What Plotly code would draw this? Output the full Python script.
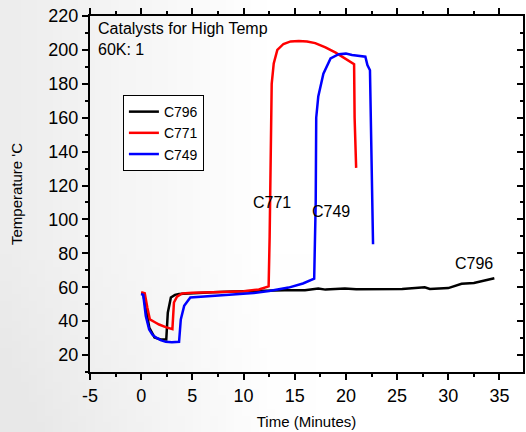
import base64, struct, zlib
import plotly.graph_objects as go

# ---- data ----
c796_t = [0.0, 0.2, 0.5, 0.8, 1.3, 1.9, 2.45, 2.6, 2.9, 3.3, 3.7, 5, 7, 9, 10.5, 12, 14, 16, 17.3, 18, 19.9, 21, 23.5, 25.5, 27.7, 28.2, 30, 31.3, 32.5, 33.5, 34.5]
c796_v = [56.5, 56, 46, 36, 30.4, 29.2, 29.2, 45, 54, 55.5, 56, 56.5, 57, 57.5, 57.8, 58, 58.2, 58.2, 59.3, 58.6, 59.2, 58.8, 58.8, 59, 60, 59, 59.5, 62, 62.5, 63.8, 65.3]
c771_t = [0.0, 0.35, 0.6, 0.85, 1.3, 1.75, 2.4, 3.05, 3.2, 3.5, 4.0, 5, 7, 9, 10, 11.5, 12.45, 12.55, 12.65, 12.75, 12.95, 13.3, 13.9, 14.6, 15.4, 16.2, 17.0, 18.0, 19.0, 20.8, 20.85, 21.0]
c771_v = [57, 56.5, 48, 41, 39.5, 38, 36.5, 35.3, 51, 54.5, 56.3, 56.8, 57, 57.3, 57.6, 58.7, 60.5, 90, 150, 180, 192, 200, 203.5, 205, 205.3, 205, 204, 201.5, 198.4, 191.6, 160, 130.4]
c749_t = [0.0, 0.2, 0.45, 0.78, 1.1, 1.43, 1.9, 2.4, 3.0, 3.7, 3.87, 4.2, 4.8, 6, 8, 9.5, 11, 12.5, 14.4, 15.8, 16.9, 17.05, 17.1, 17.3, 17.8, 18.5, 19.3, 20.0, 20.6, 21.9, 22.1, 22.35, 22.5, 22.65]
c749_v = [56, 55.5, 43, 35, 32, 30.4, 28.8, 27.8, 27.5, 27.8, 41, 49, 54, 54.5, 55, 55.9, 56.6, 57.8, 59.8, 62.2, 65, 110, 160, 172.5, 186, 195, 197.5, 197.8, 197, 196, 191, 188, 140, 85.3]
series_names = ["C796", "C771", "C749"]
series_colors = ["#000000", "#ff0000", "#0000ff"]
line_labels = [("C771", 12.75, 110), ("C749", 18.5, 104.7), ("C796", 32.5, 74)]
x_ticks = [-5, 0, 5, 10, 15, 20, 25, 30, 35]
x_ticktext = ["-5", "0", "5", "10", "15", "20", "25", "30", "35"]
y_ticks = [20, 40, 60, 80, 100, 120, 140, 160, 180, 200, 220]

FONT = "Liberation Sans, Arial, sans-serif"

# ---- soft background gradient as a small PNG ----
def gradient_png(w, h):
    rows = b""
    for j in range(h):
        rows += b"\x00"
        for i in range(w):
            fx = i / (w - 1)
            fy = j / (h - 1)
            d = max(0.0, 0.5 - fx) * 36 + max(0.0, fy - 0.6) * max(0.0, 0.6 - fx) * 30
            g = int(max(232, min(255, 255 - d)))
            rows += bytes([g, g, g])
    def chunk(t, d):
        c = struct.pack(">I", len(d)) + t + d
        return c + struct.pack(">I", zlib.crc32(t + d) & 0xffffffff)
    png = b"\x89PNG\r\n\x1a\n"
    png += chunk(b"IHDR", struct.pack(">IIBBBBB", w, h, 8, 2, 0, 0, 0))
    png += chunk(b"IDAT", zlib.compress(rows))
    png += chunk(b"IEND", b"")
    return "data:image/png;base64," + base64.b64encode(png).decode()

fig = go.Figure()
for name, t, v, col in zip(series_names, [c796_t, c771_t, c749_t], [c796_v, c771_v, c749_v], series_colors):
    fig.add_trace(go.Scatter(x=t, y=v, mode="lines", name=name,
                             line=dict(color=col, width=2.5)))

# invisible trace for mirrored axes (top / right)
fig.add_trace(go.Scatter(x=[None], y=[None], xaxis="x2", yaxis="y2",
                         showlegend=False, hoverinfo="skip"))

XR = [-5, 37.3]
YR = [10, 220]

fig.update_layout(
    width=526, height=432,
    margin=dict(l=90, r=3, t=16, b=60),
    paper_bgcolor="white",
    plot_bgcolor="rgba(0,0,0,0)",
    font=dict(family=FONT, color="black"),
    images=[dict(source=gradient_png(64, 64), xref="paper", yref="paper",
                 x=-90 / 433, y=1 + 16 / 356, sizex=526 / 433, sizey=432 / 356,
                 sizing="stretch", layer="below", xanchor="left", yanchor="top")],
    xaxis=dict(range=XR, tickvals=x_ticks, ticktext=x_ticktext, ticks="outside", ticklen=6, tickwidth=1.5,
               showline=True, linecolor="black", linewidth=2, showgrid=False, zeroline=False,
               tickfont=dict(size=18), tickcolor="black", automargin=False,
               minor=dict(dtick=2.5, tick0=0, ticks="outside", ticklen=3, tickcolor="black", tickwidth=1.5),
               title=dict(text="Time (Minutes)", font=dict(size=15), standoff=12)),
    yaxis=dict(range=YR, tickvals=y_ticks, ticks="outside", ticklen=6, tickwidth=1.5,
               showline=True, linecolor="black", linewidth=2, showgrid=False, zeroline=False,
               tickfont=dict(size=18), tickcolor="black", automargin=False,
               minor=dict(dtick=10, tick0=0, ticks="outside", ticklen=3, tickcolor="black", tickwidth=1.5),
               title=dict(text="Temperature 'C", font=dict(size=15), standoff=22)),
    xaxis2=dict(range=XR, overlaying="x", side="top", tickvals=x_ticks, ticks="outside",
                ticklen=6, tickwidth=1.5, tickcolor="black", showticklabels=False, automargin=False,
                showline=True, linecolor="black", linewidth=2, showgrid=False, zeroline=False,
                minor=dict(dtick=2.5, tick0=0, ticks="outside", ticklen=3, tickcolor="black", tickwidth=1.5)),
    yaxis2=dict(range=YR, overlaying="y", side="right", tickvals=y_ticks, ticks="inside",
                ticklen=6, tickwidth=1.5, tickcolor="black", showticklabels=False, automargin=False,
                showline=True, linecolor="black", linewidth=2, showgrid=False, zeroline=False,
                minor=dict(dtick=10, tick0=0, ticks="inside", ticklen=3, tickcolor="black", tickwidth=1.5)),
    legend=dict(x=0.076, y=0.778, xanchor="left", yanchor="top",
                bgcolor="white", bordercolor="black", borderwidth=1,
                font=dict(size=14), tracegroupgap=0),
    showlegend=True,
)

fig.add_annotation(text="Catalysts for High Temp<br>60K: 1", xref="paper", yref="paper",
                   x=0.014, y=0.995, xanchor="left", yanchor="top", align="left",
                   showarrow=False, font=dict(size=16))
for txt, lx, ly in line_labels:
    fig.add_annotation(text=txt, x=lx, y=ly, showarrow=False, font=dict(size=16))

fig.write_html("out.html", config={"displayModeBar": False},
               post_script="document.body.style.margin='0';document.body.style.padding='0';")
